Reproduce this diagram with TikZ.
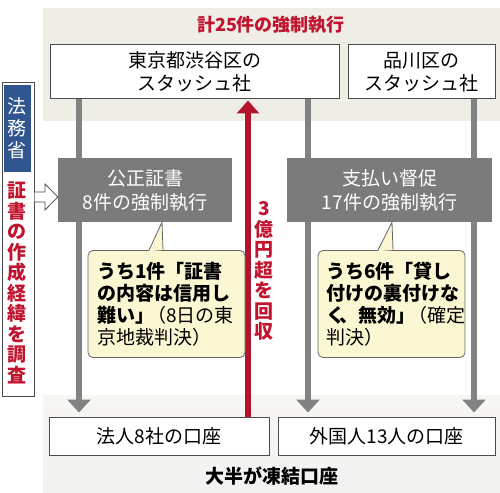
\documentclass[tikz,border=0pt]{standalone}
\usepackage{fontspec}
\setmainfont{Noto Sans CJK JP}
\usetikzlibrary{arrows.meta, calc}

\definecolor{bandcol}{HTML}{EEEDE6}
\definecolor{boxgray}{HTML}{7B7B7B}
\definecolor{linegray}{HTML}{828282}
\definecolor{redline}{HTML}{B3132B}
\definecolor{redtext}{HTML}{C0142F}
\definecolor{memocol}{HTML}{FBF7D2}
\definecolor{navy}{HTML}{30558F}

\begin{document}
\begin{tikzpicture}[x=1pt,y=-1pt,
    wbox/.style={draw=black!70,fill=white,line width=1pt,inner sep=0pt,align=center,
        font=\fontsize{19}{23}\selectfont},
    gbox/.style={fill=boxgray,text=white,inner sep=0pt,align=center,minimum height=64pt,
        font=\fontsize{19}{24}\selectfont},
    memo/.style={draw=black!60,fill=memocol,line width=0.8pt,rounded corners=5pt,inner sep=0pt,
        align=left,minimum height=107pt,font=\fontsize{19}{22}\selectfont},
    vtext/.style={inner sep=0pt,align=center,font=\bfseries\fontsize{19}{20.5}\selectfont},
    gline/.style={draw=linegray,line width=6pt,shorten >=4pt,-{Triangle[width=23pt,length=13pt]}}]
    \useasboundingbox (0,0) rectangle (500,492);
    \fill [bandcol] (43,8) rectangle (500,121);
    \shade [top color=bandcol!50,bottom color=bandcol!80!black!20] (43,395) rectangle (500,492);
    \node [font=\bfseries\fontsize{18}{20}\selectfont,text=redtext] (title) at (271,25) {計25件の強制執行};
    \node [wbox,minimum width=289pt,minimum height=54pt] (tokyo) at (194.5,72) {東京都渋谷区の\\スタッシュ社};
    \node [wbox,minimum width=147pt,minimum height=54pt] (shina) at (421.5,72) {品川区の\\スタッシュ社};
    \node [wbox,minimum width=220pt,minimum height=38pt] (hojin) at (159,436) {法人8社の口座};
    \node [wbox,minimum width=217pt,minimum height=38pt] (gaikoku) at (386.5,436) {外国人13人の口座};
    \node [font=\bfseries\fontsize{19}{22}\selectfont] (frozen) at (272,476) {大半が凍結口座};
    \foreach \x/\a/\b in {79/tokyo/hojin,308/tokyo/gaikoku,474/shina/gaikoku}
    \draw [gline] (\a.south -| \x,0) -- (\b.north -| \x,0);
    \draw [draw=redline,line width=6pt,shorten >=1pt,-{Triangle[width=22pt,length=13pt]}]
        (hojin.north -| 248,0) -- (tokyo.south -| 248,0);
    \node [vtext,text=redtext] (kaishu) at (264,271) {3\\億\\円\\超\\を\\回\\収};
    \node [gbox,minimum width=174pt] (kosei) at (145,190) {公正証書\\8件の強制執行};
    \node [gbox,minimum width=205pt] (shiharai) at (389.5,190) {支払い督促\\17件の強制執行};
    \node [memo,minimum width=157pt,text width=139pt] (memo1) at (166.5,304)
        {\textbf{うち1件「証書}\\\textbf{の内容は信用し}\\\textbf{難い」}\kern-7pt（8日の東\\京地裁判決）};
    \node [memo,minimum width=147pt,text width=131pt] (memo2) at (391.5,304)
        {\textbf{うち6件「貸し}\\\textbf{付けの裏付けな}\\\textbf{く\kern-6pt、無効」}\kern-7pt（確定\\判決）};
    \fill [memocol] (memo1.north -| 149,0) ++(0,1) -- (kosei.south -| 162,0) -- (memo1.north -| 163,0) ++(0,1) -- cycle;
    \draw [black!60,line width=0.8pt] (memo1.north -| 149,0) -- (kosei.south -| 162,0) -- (memo1.north -| 163,0);
    \fill [memocol] (memo2.north -| 378,0) ++(0,1) -- (shiharai.south -| 392,0) -- (memo2.north -| 393,0) ++(0,1) -- cycle;
    \draw [black!60,line width=0.8pt] (memo2.north -| 378,0) -- (shiharai.south -| 392,0) -- (memo2.north -| 393,0);
    \node [draw=black!70,fill=white,line width=1pt,minimum width=32pt,minimum height=313pt] (side) at (18,239.5) {};
    \node [fill=navy,text=white,minimum width=27pt,minimum height=87pt,inner sep=0pt,align=center,
        font=\fontsize{19}{22}\selectfont] (homu) at (17.5,128.5) {法\\務\\省};
    \node [vtext,text=redtext] (chosa) at (17.5,283) {証\\書\\の\\作\\成\\経\\緯\\を\\調\\査};
    \fill [white] (side.east |- 0,192) -- (45,192) -- (45,184) -- (kosei.west |- 0,197) -- (45,210) -- (45,202) -- (side.east |- 0,202) -- cycle;
    \draw [black!70,line width=0.8pt] (side.east |- 0,192) -- (45,192) -- (45,184) -- (kosei.west |- 0,197) -- (45,210) -- (45,202) -- (side.east |- 0,202);
\end{tikzpicture}
\end{document}
